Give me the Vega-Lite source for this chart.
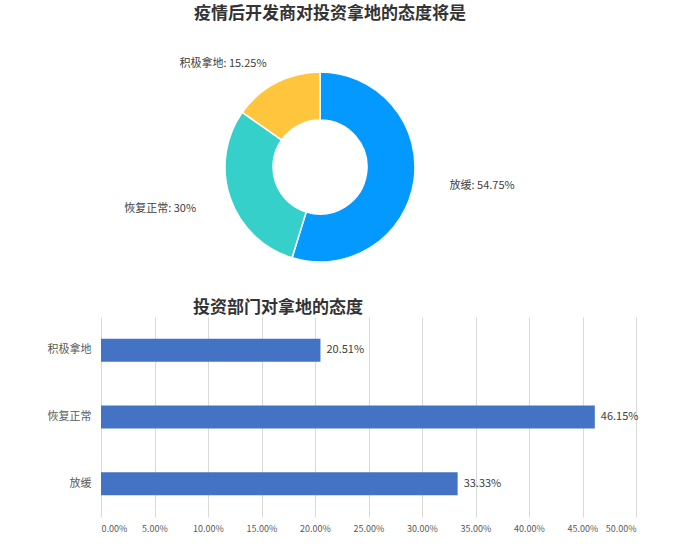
{
  "$schema": "https://vega.github.io/schema/vega-lite/v6.json",
  "padding": {"left": 0, "top": 5, "right": 0, "bottom": 0},
  "background": "white",
  "config": {
    "view": {"stroke": null},
    "font": "Noto Sans CJK SC",
    "concat": {"spacing": 2}
  },
  "vconcat": [
    {
      "width": 438,
      "height": 260,
      "title": {
        "text": "疫情后开发商对投资拿地的态度将是",
        "fontSize": 17,
        "fontWeight": "bold",
        "color": "#333333",
        "dx": 10,
        "offset": 14
      },
      "data": {
        "values": [
          {"cat": "放缓", "pct": 54.75},
          {"cat": "恢复正常", "pct": 30},
          {"cat": "积极拿地", "pct": 15.25}
        ]
      },
      "transform": [
        {"calculate": "datum.cat + ': ' + datum.pct + '%'", "as": "label"}
      ],
      "encoding": {
        "theta": {"field": "pct", "type": "quantitative", "stack": true},
        "order": {"field": "pct", "sort": "descending"}
      },
      "layer": [
        {
          "mark": {
            "type": "arc",
            "outerRadius": 95,
            "innerRadius": 47,
            "stroke": "white",
            "strokeWidth": 1.5
          },
          "encoding": {
            "color": {
              "field": "cat",
              "type": "nominal",
              "scale": {
                "domain": ["放缓", "恢复正常", "积极拿地"],
                "range": ["#0399FE", "#35D0CA", "#FFC53D"]
              },
              "legend": null
            }
          }
        },
        {
          "mark": {
            "type": "text",
            "radius": {"expr": "datum.cat === '积极拿地' ? 116 : 131"},
            "fontSize": 11,
            "color": "#404040",
            "align": {"expr": "datum.cat === '放缓' ? 'left' : 'right'"}
          },
          "encoding": {
            "text": {"field": "label", "type": "nominal"}
          }
        }
      ]
    },
    {
      "width": 535,
      "height": 200,
      "title": {
        "text": "投资部门对拿地的态度",
        "fontSize": 17,
        "fontWeight": "bold",
        "color": "#333333",
        "anchor": "start",
        "frame": "group",
        "dx": 92,
        "offset": 0
      },
      "data": {
        "values": [
          {"cat": "积极拿地", "v": 0.2051},
          {"cat": "恢复正常", "v": 0.4615},
          {"cat": "放缓", "v": 0.3333}
        ]
      },
      "encoding": {
        "y": {
          "field": "cat",
          "type": "nominal",
          "sort": ["积极拿地", "恢复正常", "放缓"],
          "scale": {"paddingInner": 0.655, "paddingOuter": 0.3275},
          "axis": {
            "title": null,
            "domain": false,
            "ticks": false,
            "labelFontSize": 11,
            "labelColor": "#595959",
            "labelPadding": 10,
            "minExtent": 101,
            "maxExtent": 101
          }
        },
        "x": {
          "field": "v",
          "type": "quantitative",
          "scale": {"domain": [0, 0.5]},
          "axis": {
            "title": null,
            "format": ".2%",
            "values": [0, 0.05, 0.1, 0.15, 0.2, 0.25, 0.3, 0.35, 0.4, 0.45, 0.5],
            "domain": false,
            "ticks": false,
            "labelFontSize": 9,
            "labelColor": "#595959",
            "labelPadding": 7,
            "gridColor": "#d9d9d9"
          }
        }
      },
      "layer": [
        {
          "mark": {"type": "bar", "color": "#4472C4"}
        },
        {
          "mark": {
            "type": "text",
            "align": "left",
            "dx": 6,
            "fontSize": 11,
            "color": "#404040"
          },
          "encoding": {
            "text": {"field": "v", "type": "quantitative", "format": ".2%"}
          }
        }
      ]
    }
  ]
}
